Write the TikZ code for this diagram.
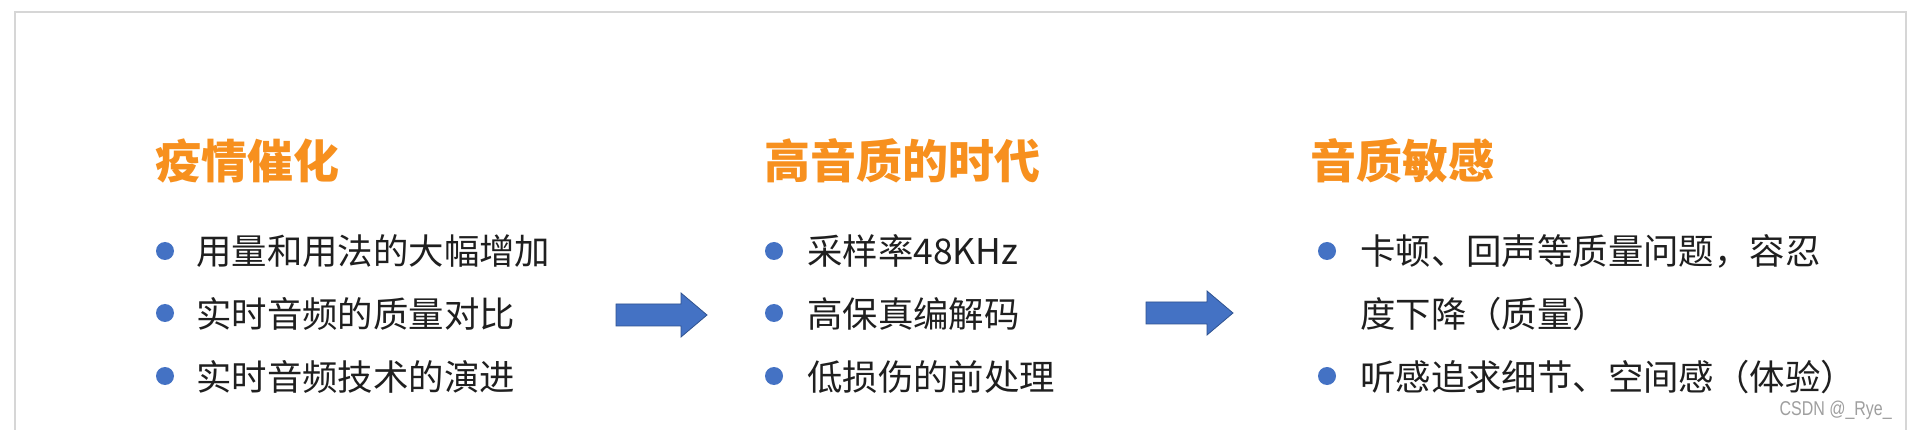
\documentclass[tikz,border=0pt]{standalone}
\usepackage{fontspec}
\usepackage{tikz}
\usepackage{xcolor}
\setmainfont{Noto Sans CJK SC}
\newfontfamily\cjk{Noto Sans CJK SC}
\newfontfamily\markfont[FakeStretch=0.8]{Liberation Sans}

\definecolor{titleorange}{RGB}{247,144,30}
\definecolor{dotblue}{RGB}{68,114,196}
\definecolor{arrowedge}{RGB}{47,82,143}
\definecolor{framegray}{RGB}{214,214,214}

\tikzset{
  headline/.style={anchor=base west, inner sep=0pt, text=titleorange,
    font=\cjk\bfseries\fontsize{46}{46}\selectfont},
  itemtext/.style={anchor=base west, inner sep=0pt, text=black!88,
    font=\cjk\fontsize{35.4}{35.4}\selectfont},
  bulletdot/.style={circle, fill=dotblue, inner sep=0pt, minimum size=18pt},
  fatarrow/.style={fill=dotblue, draw=arrowedge, line width=0.8pt}
}

\begin{document}
\begin{tikzpicture}[x=1pt,y=-1pt]
    \useasboundingbox (0,0) rectangle (1920,430);
    \fill[white] (0,0) rectangle (1920,430);
    \draw[framegray, line width=1.5pt] (15,440) -- (15,12) -- (1906,12) -- (1906,440);

    % column titles
    \node[headline] (head1) at (155,179) {疫情催化};
    \node[headline] (head2) at (764,179) {高音质的时代};
    \node[headline] (head3) at (1310,179) {音质敏感};

    % bullet dots
    \foreach \x/\y [count=\i] in {165/251, 165/313, 165/376, 774/251, 774/313, 774/376, 1327/251, 1327/376}{
        \node[bulletdot] (dot\i) at (\x,\y) {};
    }

    % items
    \node[itemtext] (item11) at (196,265) {用量和用法的大幅增加};
    \node[itemtext] (item12) at (196,327) {实时音频的质量对比};
    \node[itemtext] (item13) at (196,390) {实时音频技术的演进};

    \node[itemtext] (item21) at (807,265) {采样率48KHz};
    \node[itemtext] (item22) at (807,327) {高保真编解码};
    \node[itemtext] (item23) at (807,390) {低损伤的前处理};

    \node[itemtext] (item31) at (1360,265) {卡顿、回声等质量问题，容忍};
    \node[itemtext] (item31b) at (1360,327) {度下降（质量）};
    \node[itemtext] (item32) at (1360,390) {听感追求细节、空间感（体验）};

    % block arrows
    \foreach \x/\y/\l in {616/315/65, 1146/313/61}{
        \filldraw[fatarrow] (\x,\y-11) -- ++(\l,0) -- ++(0,-11) -- ++(26,22)
            -- ++(-26,22) -- ++(0,-11) -- ++(-\l,0) -- cycle;
    }

    \node[anchor=base east, inner sep=0pt, text=gray!75,
          font=\markfont\fontsize{20}{20}\selectfont] (mark) at (1892,415) {CSDN @\_Rye\_};
\end{tikzpicture}
\end{document}
